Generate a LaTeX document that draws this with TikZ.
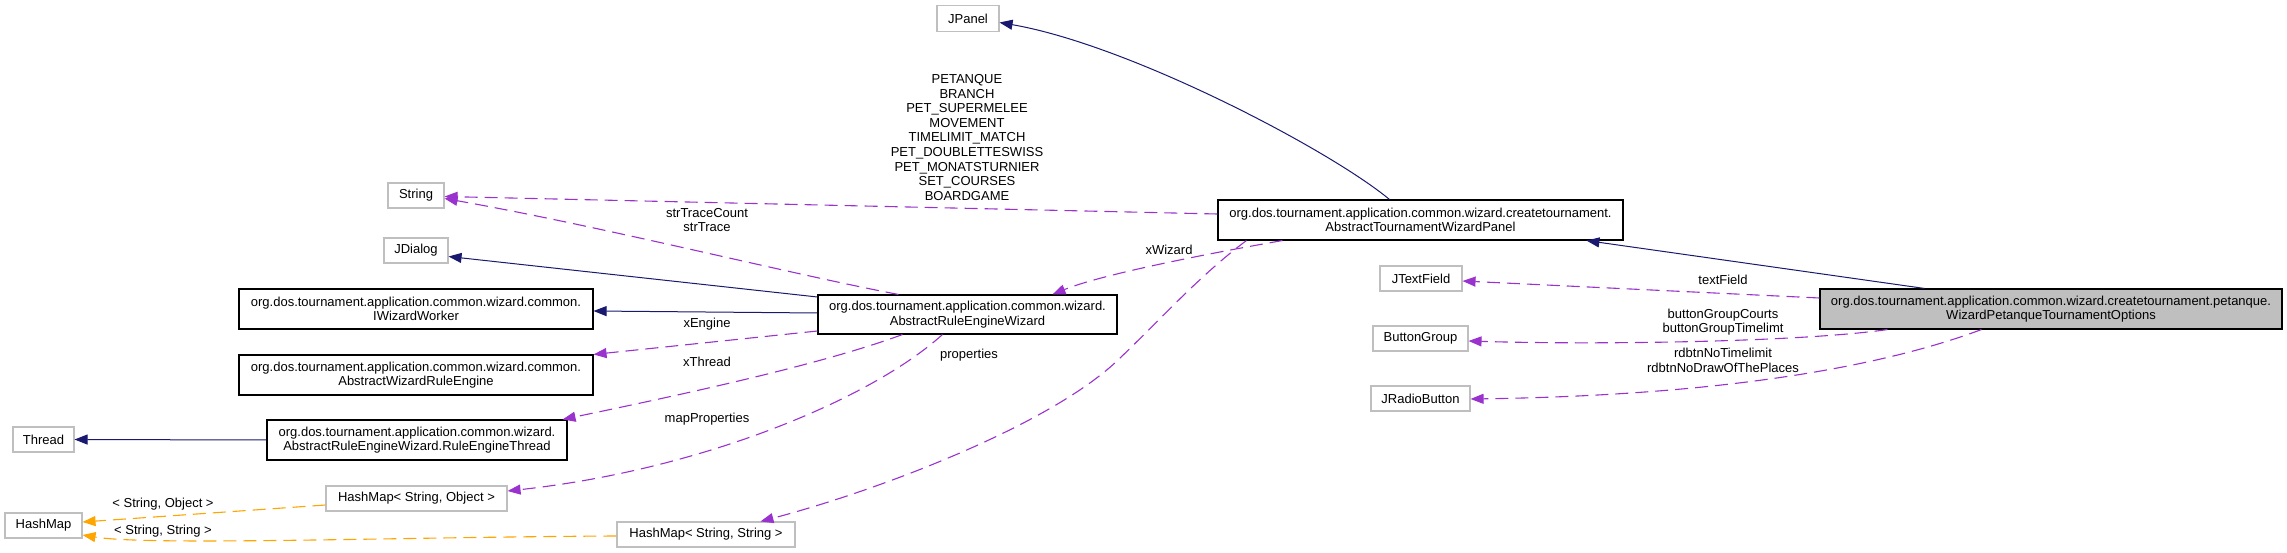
\documentclass[tikz,border=0pt]{standalone}
\usepackage{fontspec}
\setmainfont{Liberation Sans}
\usetikzlibrary{arrows.meta,calc}
\definecolor{navy}{HTML}{191970}
\definecolor{purp}{HTML}{9A32CD}
\definecolor{orng}{HTML}{FFA500}
\definecolor{gborder}{HTML}{BFBFBF}
\definecolor{gfill}{HTML}{BFBFBF}
\begin{document}
\begin{tikzpicture}[x=1pt,y=-1pt,
  font=\fontsize{13}{14.6}\selectfont,
  cls/.style={draw=black, line width=1.1pt, fill=white, inner sep=0pt, align=center},
  ext/.style={draw=gborder, line width=1.1pt, fill=white, inner sep=0pt, align=center},
  focus/.style={draw=black, line width=1.1pt, fill=gfill, inner sep=0pt, align=center},
  inh/.style={draw=navy, line width=1pt, -{Triangle[length=13pt,width=10pt]}},
  usage/.style={draw=purp, line width=1.1pt, dash pattern=on 13pt off 7pt, -{Triangle[length=13pt,width=10pt]}},
  tmpl/.style={draw=orng, line width=1.1pt, dash pattern=on 13pt off 7pt, -{Triangle[length=13pt,width=10pt]}},
  lbl/.style={inner sep=0pt, align=center}]
\useasboundingbox (0,0) rectangle (2287,553);

% nodes
\node[ext, minimum width=62, minimum height=26] (jpanel) at (968,18.5) {JPanel};
\node[ext, minimum width=56, minimum height=25] (string) at (416,195.5) {String};
\node[ext, minimum width=64, minimum height=25] (jdialog) at (416,250.5) {JDialog};
\node[cls, minimum width=354, minimum height=40] (iww) at (416,309) {org.dos.tournament.application.common.wizard.common.\\IWizardWorker};
\node[cls, minimum width=354, minimum height=40] (awre) at (416,375) {org.dos.tournament.application.common.wizard.common.\\AbstractWizardRuleEngine};
\node[cls, minimum width=300, minimum height=40] (ret) at (417,440) {org.dos.tournament.application.common.wizard.\\AbstractRuleEngineWizard.RuleEngineThread};
\node[ext, minimum width=61, minimum height=25] (thread) at (43.5,439.5) {Thread};
\node[ext, minimum width=181, minimum height=25] (hmso) at (416.5,498.5) {HashMap< String, Object >};
\node[ext, minimum width=77, minimum height=25] (hashmap) at (43.5,525.5) {HashMap};
\node[ext, minimum width=178, minimum height=25] (hmss) at (706,534.5) {HashMap< String, String >};
\node[cls, minimum width=299, minimum height=39] (arw) at (967.5,314.5) {org.dos.tournament.application.common.wizard.\\AbstractRuleEngineWizard};
\node[cls, minimum width=405, minimum height=40] (atwp) at (1420.5,220) {org.dos.tournament.application.common.wizard.createtournament.\\AbstractTournamentWizardPanel};
\node[ext, minimum width=82, minimum height=25] (jtf) at (1421,278.5) {JTextField};
\node[ext, minimum width=95, minimum height=25] (bg) at (1420.5,338.5) {ButtonGroup};
\node[ext, minimum width=99, minimum height=25] (jrb) at (1420.5,398.5) {JRadioButton};
\node[focus, minimum width=462, minimum height=40] (wp) at (2051,309) {org.dos.tournament.application.common.wizard.createtournament.petanque.\\WizardPetanqueTournamentOptions};

% inheritance edges
\draw[inh] ($(wp.north west)+(105,0)$) -- ($(atwp.south west)+(369,0)$);
\draw[inh] ($(atwp.north west)+(172,0)$) .. controls (1330,150) and (1130,45) .. ($(jpanel.east)+(0,4)$);
\draw[inh] ($(arw.west)+(0,-17.5)$) -- ($(jdialog.east)+(0,6)$);
\draw[inh] ($(arw.west)+(0,-1.5)$) -- ($(iww.east)+(0,2)$);
\draw[inh] (ret.west) -- (thread.east);

% usage edges
\draw[usage] ($(atwp.west)+(0,-6)$) -- ($(string.east)+(0,1)$);
\draw[usage] ($(arw.north west)+(81,0)$) .. controls (795,275) and (600,226) .. ($(string.east)+(0,3)$);
\draw[usage] ($(atwp.south west)+(65,0)$) .. controls (1200,255) and (1100,275) .. ($(arw.north west)+(235,0)$);
\draw[usage] ($(atwp.south west)+(29,0)$) .. controls (1200,275) and (1160,320) .. (1118,360)
   .. controls (1050,425) and (880,490) .. ($(hmss.north west)+(144,0)$);
\draw[usage] ($(arw.west)+(0,16.5)$) -- (awre.north east);
\draw[usage] ($(arw.south west)+(85,0)$) .. controls (820,365) and (680,395) .. ($(ret.north east)+(-5,0)$);
\draw[usage] ($(arw.south west)+(125,0)$) .. controls (870,400) and (700,470) .. ($(hmso.east)+(0,-7.5)$);
\draw[usage] ($(wp.west)+(0,-11)$) -- ($(jtf.east)+(0,2.5)$);
\draw[usage] ($(wp.south west)+(68,0)$) .. controls (1800,342) and (1600,345) .. ($(bg.east)+(0,2.5)$);
\draw[usage] ($(wp.south west)+(162,0)$) .. controls (1900,360) and (1750,395) .. ($(jrb.east)+(0,0.5)$);

% template edges
\draw[tmpl] ($(hmso.west)+(0,6.5)$) -- ($(hashmap.east)+(0,-3.5)$);
\draw[tmpl] ($(hmss.west)+(0,1.5)$) .. controls (400,537) and (150,546) .. ($(hashmap.east)+(0,9.5)$);

% labels
\node[lbl] (lenum) at (967,137.5) {PETANQUE\\BRANCH\\PET\_SUPERMELEE\\MOVEMENT\\TIMELIMIT\_MATCH\\PET\_DOUBLETTESWISS\\PET\_MONATSTURNIER\\SET\_COURSES\\BOARDGAME};
\node[lbl] (ltrace) at (707,220) {strTraceCount\\strTrace};
\node[lbl] (lxwiz) at (1169,250) {xWizard};
\node[lbl] (lxeng) at (707,324) {xEngine};
\node[lbl] (lxthr) at (707,362) {xThread};
\node[lbl] (lmap) at (707,419) {mapProperties};
\node[lbl] (lprop) at (969,355) {properties};
\node[lbl] (lso) at (163,504) {< String, Object >};
\node[lbl] (lss) at (163,531) {< String, String >};
\node[lbl] (ltf) at (1723,280) {textField};
\node[lbl] (lbg) at (1723,322) {buttonGroupCourts\\buttonGroupTimelimt};
\node[lbl] (lrb) at (1723,360.5) {rdbtnNoTimelimit\\rdbtnNoDrawOfThePlaces};
\end{tikzpicture}
\end{document}
